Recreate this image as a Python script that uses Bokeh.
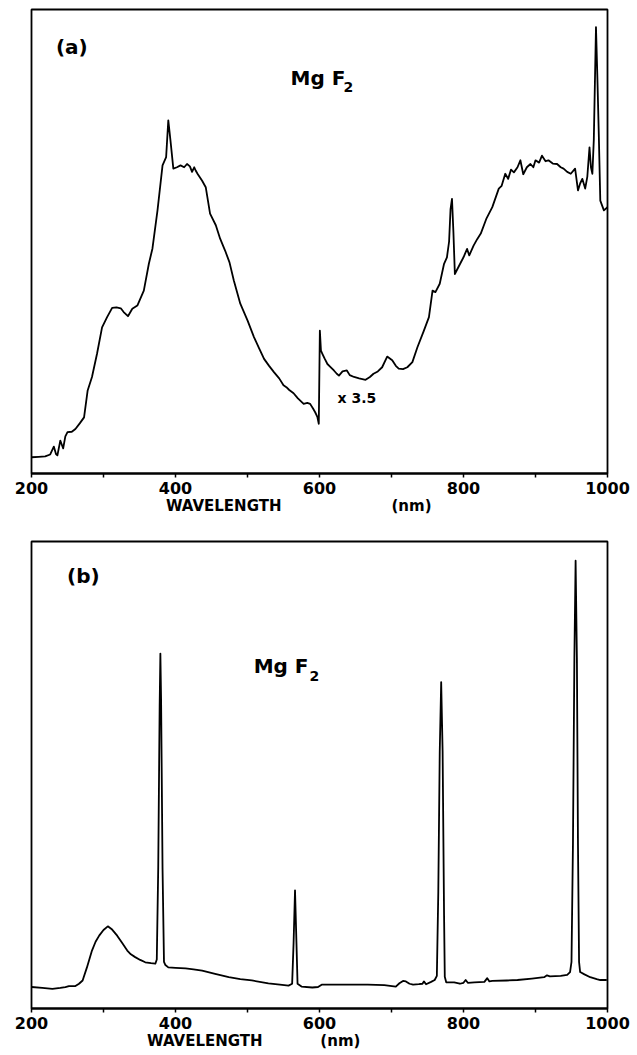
from bokeh.plotting import figure
from bokeh.layouts import column
from bokeh.models import Range1d, FixedTicker, Label, LinearAxis
from bokeh.embed import file_html
from bokeh.resources import INLINE

# Panel (a): broadband emission spectrum of MgF2 (right part scaled x3.5)
wl_a = [200, 210, 219, 226, 231, 234, 236, 240, 244, 247, 250, 256, 261, 267, 273,
        278, 284, 291, 298, 305, 312, 318, 324, 328, 334, 340, 347, 356, 363, 368,
        375, 382, 387, 390, 393, 397, 402, 407, 412, 416, 420, 423, 426, 428, 431,
        437, 442, 448, 456, 462, 469, 475, 481, 490, 500, 509, 516, 523, 530, 537,
        544, 550, 554, 558, 564, 570, 578, 583, 587, 591, 594, 597, 599, 600.5, 602,
        604, 607, 611, 615, 620, 624, 627, 632, 638, 642, 648, 655, 664, 670, 675,
        681, 687, 694, 701, 706, 710, 716, 722, 729, 736, 745, 752, 757, 761, 767,
        773, 777, 780, 782, 784, 786, 788, 793, 800, 805, 808, 814, 819, 824, 832,
        840, 849, 853, 858, 862, 866, 870, 875, 879, 883, 888, 893, 897, 900, 905,
        909, 914, 918, 924, 930, 935, 939, 944, 949, 955, 959, 962, 965, 969, 972,
        975, 977, 979, 981, 984, 986, 988, 990, 995, 1000]
int_a = [3.5, 3.6, 3.7, 4.1, 5.8, 4.2, 3.9, 7.1, 5.4, 8.0, 8.9, 9.0, 9.6, 10.8, 12.1,
         17.9, 20.8, 25.8, 31.5, 33.7, 35.7, 35.8, 35.6, 34.8, 33.9, 35.5, 36.2, 39.4, 45.2, 48.5,
         56.7, 66.4, 68.2, 76.1, 71.8, 65.7, 66.0, 66.4, 66.0, 66.7, 66.2, 65.0, 66.0, 65.3, 64.5,
         63.1, 61.7, 56.0, 53.5, 50.6, 48.0, 45.5, 41.6, 36.6, 33.0, 29.4, 27.0, 24.7, 23.2, 21.8,
         20.5, 19.0, 18.6, 18.0, 17.3, 16.2, 15.0, 15.2, 15.0, 14.0, 13.2, 12.2, 10.7, 30.8, 26.5,
         25.8, 24.8, 23.6, 23.0, 22.2, 21.5, 21.1, 22.0, 22.2, 21.2, 20.8, 20.5, 20.2, 20.8, 21.5,
         22.0, 22.9, 25.2, 24.4, 23.2, 22.6, 22.5, 22.9, 24.0, 27.2, 30.8, 33.7, 39.4, 39.1, 40.9,
         45.2, 46.6, 50.0, 57.0, 59.2, 52.0, 43.0, 44.5, 46.6, 48.4, 47.0, 49.1, 50.5, 51.7, 55.0,
         57.4, 61.4, 62.0, 64.6, 63.5, 65.5, 64.9, 66.0, 67.5, 64.5, 66.0, 66.7, 66.0, 67.5, 67.0,
         68.5, 67.3, 67.5, 66.8, 66.7, 66.0, 65.7, 65.0, 64.6, 65.7, 61.0, 62.5, 63.5, 61.4, 64.0,
         70.3, 66.0, 64.6, 72.0, 96.2, 85.0, 72.5, 58.8, 56.7, 57.4]

# Panel (b): line emission spectrum of MgF2
wl_b = [200, 215, 229, 240, 247, 252, 261, 266, 271, 277, 284, 289, 294, 300, 306,
        312, 319, 326, 333, 338, 344, 351, 358, 366, 372, 374, 376, 378, 379, 380,
        382, 384, 386, 390, 400, 414, 425, 437, 455, 474, 490, 506, 529, 545, 557,
        562, 564, 566, 568, 569.5, 575, 590, 598, 603, 630, 667, 690, 706, 711, 716,
        720, 725, 730, 738, 743, 745, 748, 755, 760, 763, 765, 767, 769, 771, 773,
        774, 776, 787, 795, 800, 803, 806, 815, 829, 833, 836, 840, 860, 875, 895,
        912, 916, 920, 935, 944, 948, 950, 952, 954, 955.7, 957.5, 959, 960.5, 962, 968,
        976, 985, 990, 999]
int_b = [4.6, 4.4, 4.2, 4.4, 4.6, 4.8, 4.8, 5.3, 6.0, 8.8, 12.4, 14.3, 15.6, 16.8, 17.6,
         16.9, 15.6, 14.0, 12.4, 11.6, 11.0, 10.4, 9.9, 9.7, 9.6, 10.5, 30.0, 65.0, 76.0, 66.0,
         30.0, 10.0, 9.3, 8.8, 8.7, 8.6, 8.4, 8.1, 7.4, 6.7, 6.3, 6.0, 5.4, 5.1, 4.9,
         5.3, 14.0, 25.3, 14.0, 5.3, 4.7, 4.5, 4.6, 5.1, 5.1, 5.1, 5.0, 4.7, 5.4, 5.9,
         5.8, 5.3, 5.1, 5.2, 5.3, 5.8, 5.2, 5.7, 6.1, 7.0, 25.0, 55.0, 69.9, 55.0, 20.0,
         6.8, 5.6, 5.6, 5.3, 5.5, 6.1, 5.5, 5.6, 5.7, 6.5, 5.8, 5.9, 6.0, 6.1, 6.4,
         6.7, 7.1, 6.9, 7.0, 7.2, 7.8, 10.0, 35.0, 75.0, 95.9, 75.0, 35.0, 10.0, 7.8, 7.3,
         6.7, 6.3, 6.1, 6.1]

major_ticks = [200, 400, 600, 800, 1000]
minor_ticks = [300, 500, 700, 900]
x_title = "WAVELENGTH"
x_unit = "(nm)"
sample = "Mg F"

FONT = "DejaVu Sans"


def make_panel(height, left, right, top, bottom, title_at, unit_at):
    p = figure(width=637, height=height, output_backend="svg", toolbar_location=None,
               x_range=Range1d(200, 1000), y_range=Range1d(0, 100),
               min_border_left=left, min_border_right=right,
               min_border_top=top, min_border_bottom=bottom)
    p.grid.visible = False
    p.yaxis.visible = False
    p.background_fill_color = "white"
    p.border_fill_color = "white"
    p.outline_line_color = "black"
    p.outline_line_width = 1.8
    ax = p.xaxis[0]
    ax.ticker = FixedTicker(ticks=major_ticks, minor_ticks=minor_ticks)
    ax.axis_line_color = "black"
    ax.axis_line_width = 1.8
    ax.major_tick_in = 0
    ax.major_tick_out = 4
    ax.minor_tick_in = 0
    ax.minor_tick_out = 4
    ax.major_tick_line_width = 1.5
    ax.minor_tick_line_width = 1.5
    ax.major_label_text_font = FONT
    ax.major_label_text_font_style = "bold"
    ax.major_label_text_font_size = "16px"
    ax.major_label_text_color = "black"
    ax.major_label_standoff = 4

    # second row under the tick labels: axis title and unit
    tax = LinearAxis(ticker=FixedTicker(ticks=[title_at, unit_at], minor_ticks=[]),
                     major_label_overrides={title_at: x_title, unit_at: x_unit})
    tax.axis_line_color = None
    tax.major_tick_line_color = None
    tax.minor_tick_line_color = None
    tax.major_tick_in = 0
    tax.major_tick_out = 0
    tax.major_label_standoff = 0
    tax.major_label_text_font = FONT
    tax.major_label_text_font_style = "bold"
    tax.major_label_text_font_size = "15px"
    tax.major_label_text_color = "black"
    p.add_layout(tax, "below")
    return p


def add_text(p, x, y, text, size, align="left", baseline="alphabetic"):
    p.add_layout(Label(x=x, y=y, text=text, text_font=FONT, text_font_style="bold",
                       text_font_size=size, text_color="black",
                       text_align=align, text_baseline=baseline))


# ---- panel (a)
pa = make_panel(520, 31, 29, 9, 47, 467, 727.8)
pa.line(wl_a, int_a, line_color="black", line_width=1.8, line_join="round")
add_text(pa, 256, 92.0, "(a)", "20px", "center", "middle")
add_text(pa, 559.7, 85.3, sample, "20px")
add_text(pa, 633.3, 83.2, "2", "14px")
add_text(pa, 625, 16.2, "x 3.5", "14px", "left", "middle")

# ---- panel (b)
pb = make_panel(535, 29, 30, 21, 47, 440.8, 629)
pb.line(wl_b, int_b, line_color="black", line_width=1.8, line_join="round")
add_text(pb, 272, 92.7, "(b)", "20px", "center", "middle")
add_text(pb, 508.6, 73.4, sample, "20px")
add_text(pb, 586.2, 71.3, "2", "14px")

layout = column(pa, pb, spacing=0)

with open("out.html", "w") as f:
    f.write(file_html(layout, INLINE))
